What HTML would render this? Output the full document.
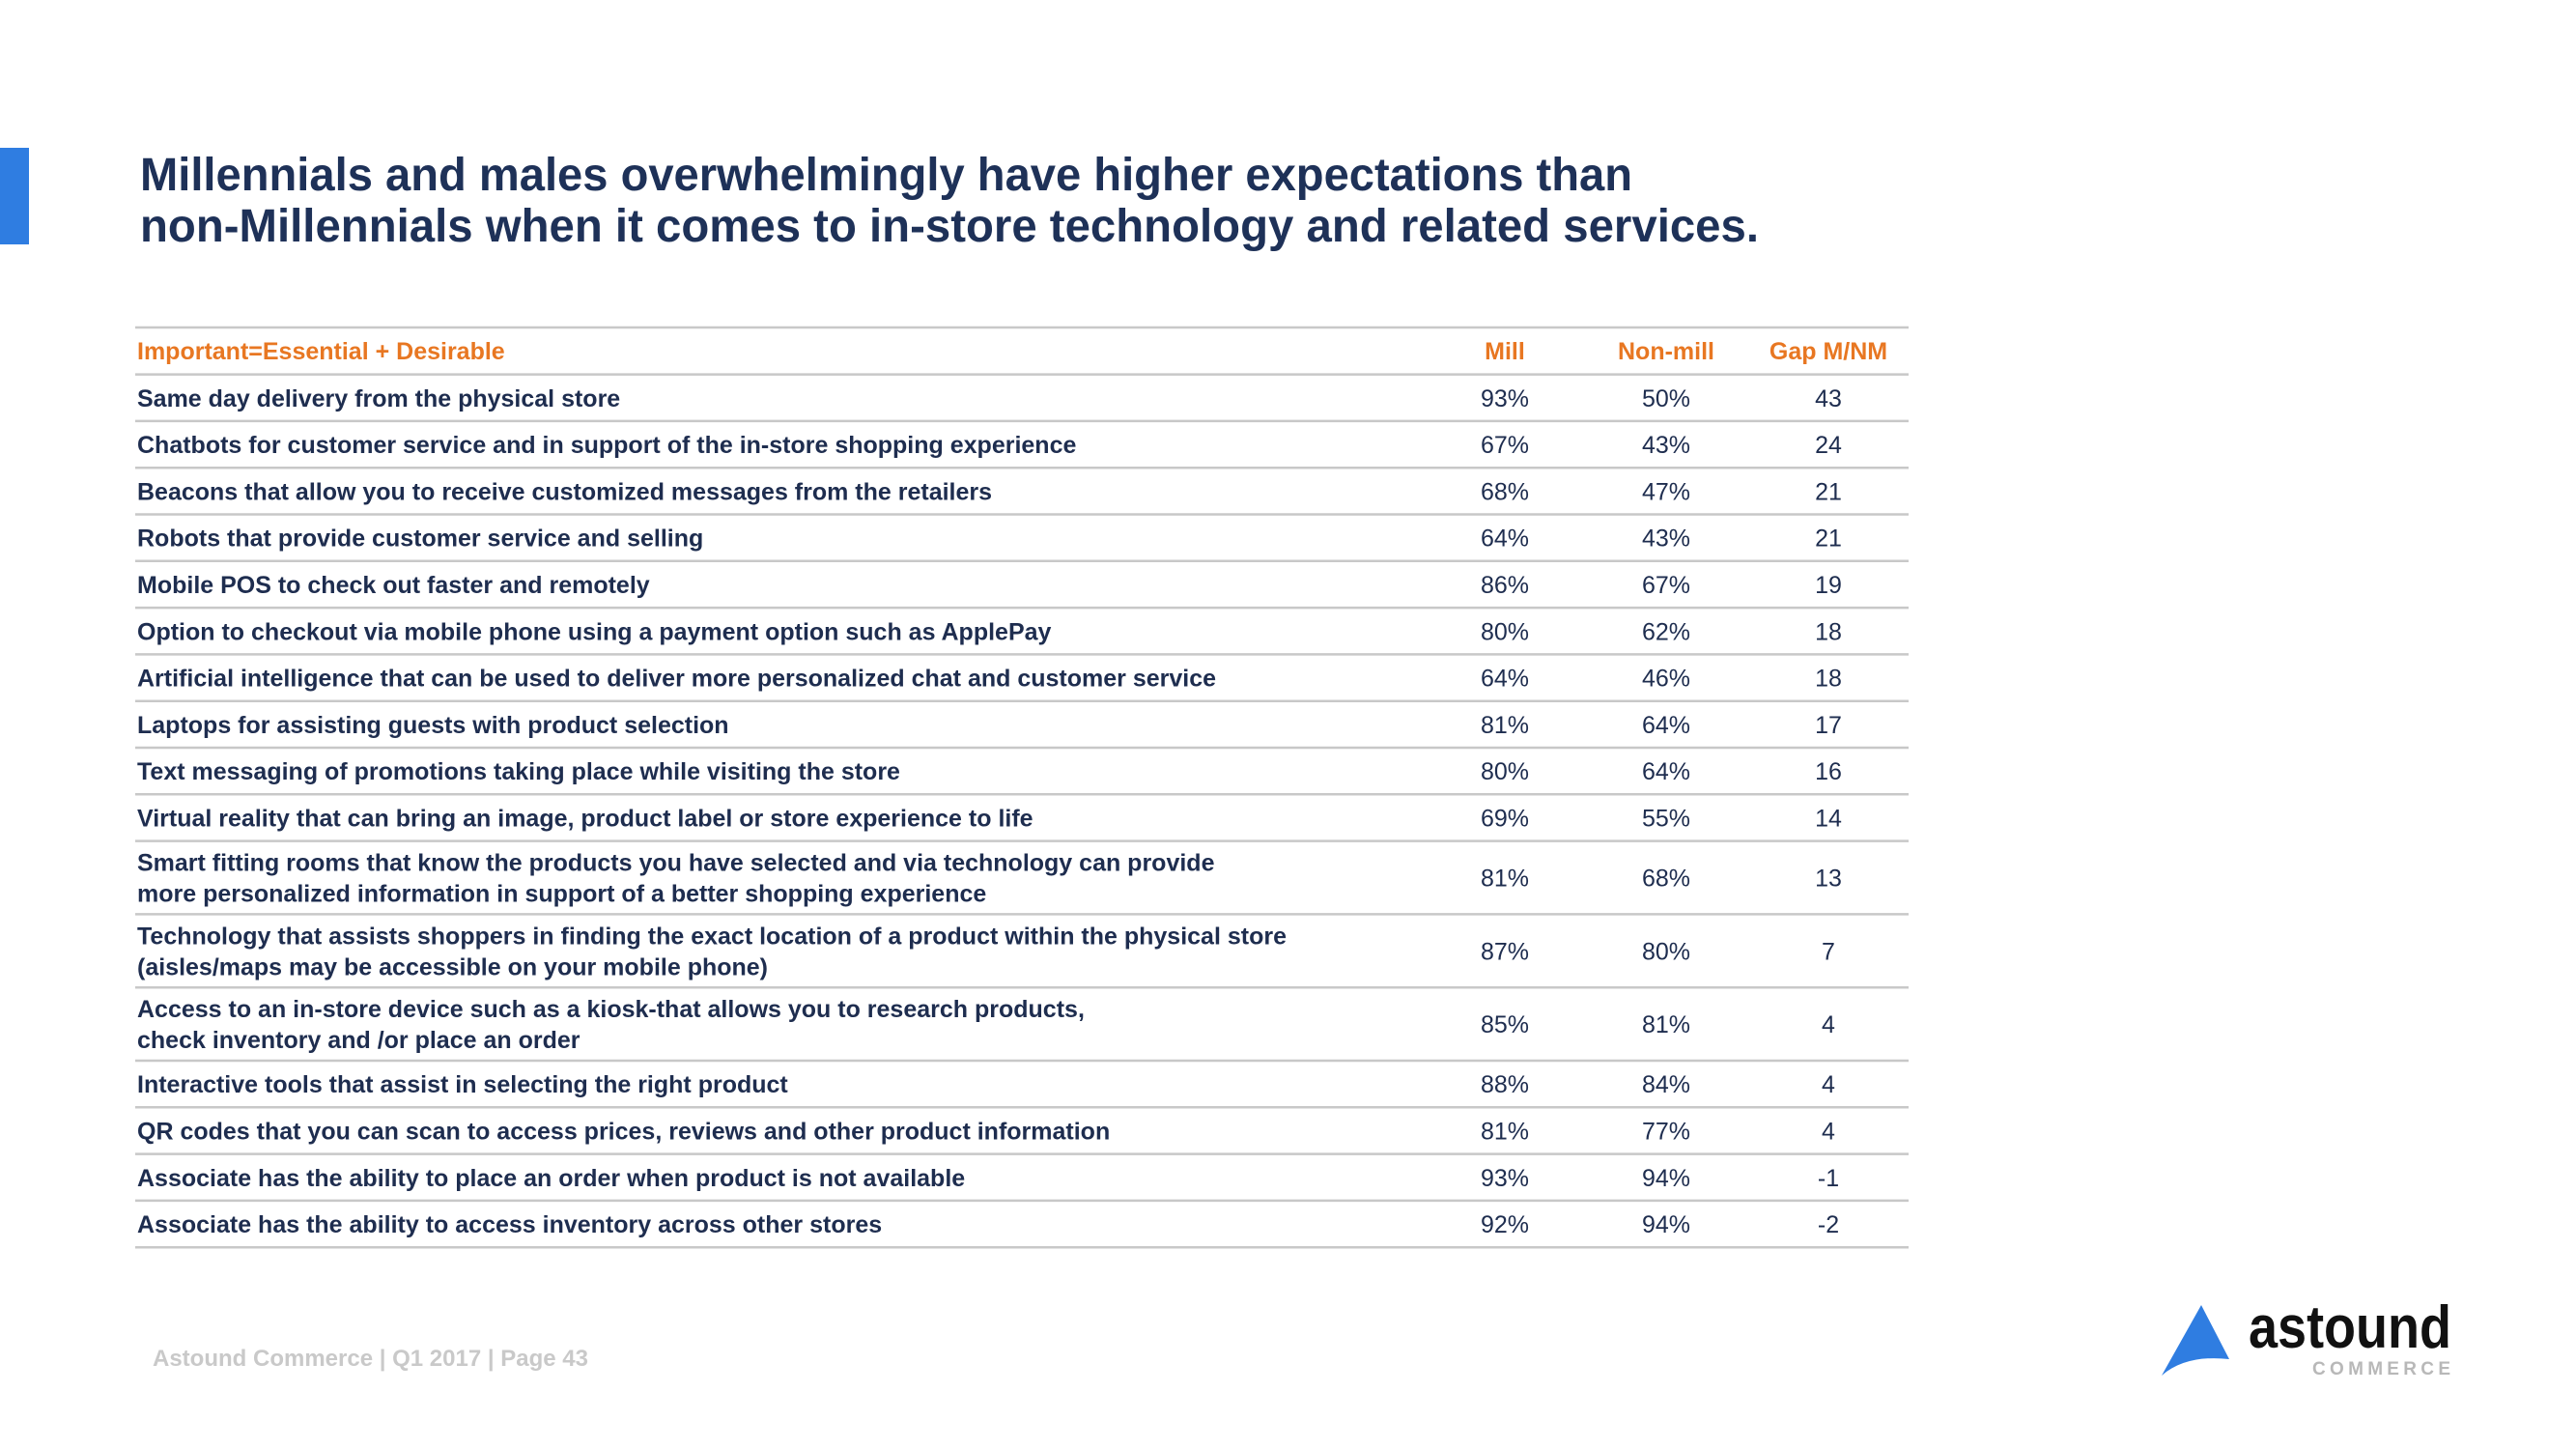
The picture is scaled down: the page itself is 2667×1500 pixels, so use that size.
<!DOCTYPE html>
<html><head><meta charset="utf-8"><style>
html,body{margin:0;padding:0;background:#fff;}
svg{display:block;font-family:"Liberation Sans",sans-serif;}
</style></head><body>
<svg id="s" width="2667" height="1500" viewBox="0 0 2667 1500">
<rect x="0" y="153" width="30" height="100" fill="#2f7de1"/>
<g fill="#1e3158" font-weight="bold" font-size="48">
<text x="145" y="197" textLength="1545" lengthAdjust="spacingAndGlyphs">Millennials and males overwhelmingly have higher expectations than</text>
<text x="145" y="250" textLength="1676" lengthAdjust="spacingAndGlyphs">non-Millennials when it comes to in-store technology and related services.</text>
</g>
<g id="tbl"></g>
<text x="158" y="1414" font-size="24" font-weight="bold" fill="#c9c9c9">Astound Commerce | Q1 2017 | Page 43</text>
<g transform="translate(-5,-3)">
<path d="M2284 1354 L2313 1410 Q2268 1405 2243 1427 Z" fill="#2f7de1"/>
<text x="2333" y="1398" font-size="62" font-weight="bold" fill="#111" textLength="210" lengthAdjust="spacingAndGlyphs">astound</text>
<text x="2399" y="1426" font-size="19" font-weight="bold" fill="#b8b8b8" textLength="143" lengthAdjust="spacing">COMMERCE</text>
</g>
</svg>
<script>
const labels=[["Same day delivery from the physical store"],["Chatbots for customer service and in support of the in-store shopping experience"],["Beacons that allow you to receive customized messages from the retailers"],["Robots that provide customer service and selling"],["Mobile POS to check out faster and remotely"],["Option to checkout via mobile phone using a payment option such as ApplePay"],["Artificial intelligence that can be used to deliver more personalized chat and customer service"],["Laptops for assisting guests with product selection"],["Text messaging of promotions taking place while visiting the store"],["Virtual reality that can bring an image, product label or store experience to life"],["Smart fitting rooms that know the products you have selected and via technology can provide","more personalized information in support of a better shopping experience"],["Technology that assists shoppers in finding the exact location of a product within the physical store","(aisles/maps may be accessible on your mobile phone)"],["Access to an in-store device such as a kiosk-that allows you to research products,","check inventory and /or place an order"],["Interactive tools that assist in selecting the right product"],["QR codes that you can scan to access prices, reviews and other product information"],["Associate has the ability to place an order when product is not available"],["Associate has the ability to access inventory across other stores"]];
const mill=[93,67,68,64,86,80,64,81,80,69,81,87,85,88,81,93,92];
const nonMill=[50,43,47,43,67,62,46,64,64,55,68,80,81,84,77,94,94];
const gap=[43,24,21,21,19,18,18,17,16,14,13,7,4,4,4,-1,-2];
const headers=["Important=Essential + Desirable","Mill","Non-mill","Gap M/NM"];
const NS="http://www.w3.org/2000/svg";
const g=document.getElementById('tbl');
const X0=140,X1=1976,colX=[1558,1725,1893];
function t(x,y,s,opts){const e=document.createElementNS(NS,'text');e.setAttribute('x',x);e.setAttribute('y',y);e.textContent=s;for(const k in opts)e.setAttribute(k,opts[k]);g.appendChild(e);return e;}
function line(y){const l=document.createElementNS(NS,'line');l.setAttribute('x1',X0);l.setAttribute('x2',X1);l.setAttribute('y1',y);l.setAttribute('y2',y);l.setAttribute('stroke','#c8c8c8');l.setAttribute('stroke-width','2.5');


g.appendChild(l);}
let y=339;line(y);
const hh=t(X0+2,y+24+9,headers[0],{'font-size':25,'font-weight':'bold',fill:'#e87722'});


for(let c=0;c<3;c++){const h=t(colX[c],y+24+9,headers[c+1],{'font-size':25,'font-weight':'bold',fill:'#e87722','text-anchor':'middle'});

}
y+=48.6;line(y);
labels.forEach((lb,i)=>{
 const h=lb.length>1?75.8:48.3;const cy=y+h/2;
 lb.forEach((s,j)=>{const yy=lb.length>1?cy-16+32*j+9:cy+9;
  const e=t(X0+2,yy,s,{'font-size':25,'font-weight':'bold',fill:'#1e2d4f'});
  
  });
 const vals=[mill[i]+'%',nonMill[i]+'%',String(gap[i])];
 vals.forEach((v,c)=>{const e=t(colX[c],cy+9,v,{'font-size':25,fill:'#1e2d4f','text-anchor':'middle'});
  
  });
 y+=h;line(y);
});
</script>
</body></html>
